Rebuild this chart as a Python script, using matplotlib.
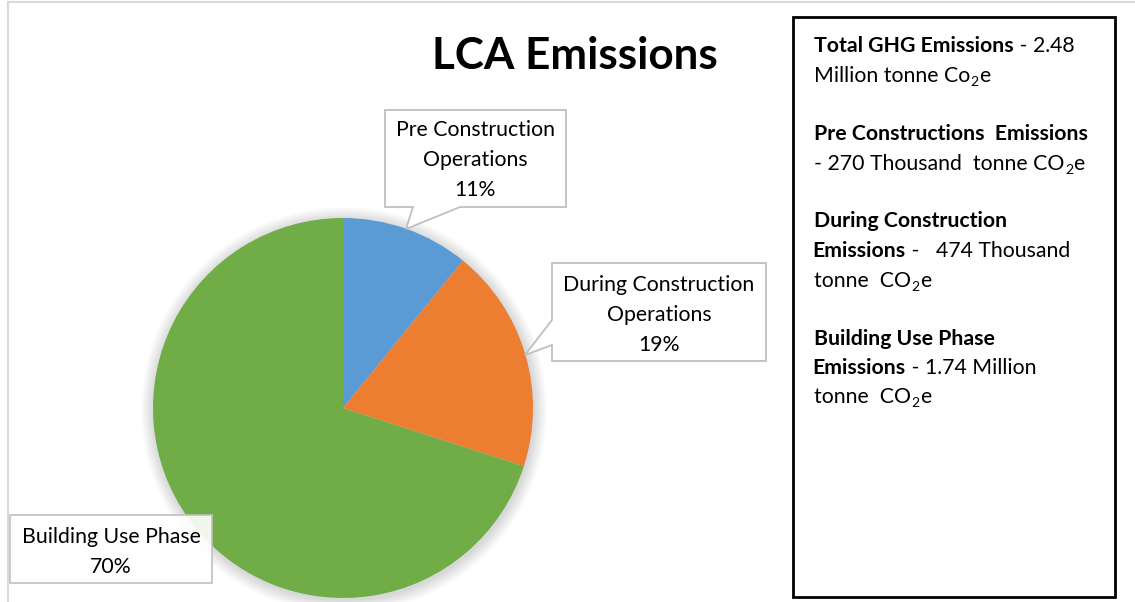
import matplotlib
matplotlib.use("Agg")
import matplotlib.pyplot as plt
from matplotlib.patches import Polygon, Rectangle, Circle

# ---- data ----
categories = ["Pre Construction\nOperations", "During Construction\nOperations", "Building Use Phase"]
values = [270, 474, 1740]          # thousand tonne CO2e
colors = ["#5B9BD5", "#ED7D31", "#70AD47"]
title = "LCA Emissions"

W, H = 1135, 602
FONT = "Lato"
fig = plt.figure(figsize=(W / 100, H / 100), dpi=100)
ax = fig.add_axes([0, 0, 1, 1])


def Y(y):
    return H - y


# chart area border
ax.plot([8, 8], [Y(2), Y(602)], color="#D9D9D9", lw=1.5, zorder=0)
ax.plot([8, 1135], [Y(2), Y(2)], color="#D9D9D9", lw=1.5, zorder=0)

cx, cy, R = 343, Y(408), 190
# soft shadow
for k in range(1, 14):
    ax.add_patch(Circle((cx + 1, cy - 2), R + k, color="#000000", alpha=0.012, lw=0, zorder=1))

ax.pie(values, colors=colors, startangle=90, counterclock=False,
       center=(cx, cy), radius=R, wedgeprops=dict(linewidth=0), frame=False)
for p in ax.patches:
    if not isinstance(p, Circle):
        p.set_zorder(2)

ax.set_xlim(0, W)
ax.set_ylim(0, H)
ax.set_aspect("auto")
ax.axis("off")

total = sum(values)
pcts = [f"{round(100 * v / total)}%" for v in values]

# callouts
callouts = [
    [(385, 110), (566, 110), (566, 207), (460, 207), (406, 229), (413, 207), (385, 207)],
    [(552, 263), (766, 263), (766, 361), (552, 361), (552, 345), (525, 355), (552, 320)],
    [(10, 515), (212, 515), (212, 583), (10, 583)],
]
text_pos = [(475, [130, 160, 190]), (659, [285, 315, 345]), (111, [537, 567])]
for i, pts in enumerate(callouts):
    ax.add_patch(Polygon([(x, Y(y)) for x, y in pts], closed=True, facecolor="white",
                         edgecolor="#BFBFBF", lw=1.3, alpha=0.9 if i == 2 else 1, zorder=5))
    lines = categories[i].split("\n") + [pcts[i]]
    tx, ys = text_pos[i]
    for ln, yy in zip(lines, ys):
        ax.text(tx, Y(yy), ln, ha="center", va="center", fontsize=15.3, family=FONT,
                color="#000000", zorder=6)

# title
ax.text(575, Y(56), title, ha="center", va="center", fontsize=31.7, fontweight="bold",
        family=FONT, color="#000000")

# info box
ax.add_patch(Rectangle((793, Y(597)), 1115 - 793, 597 - 17, facecolor="white",
                       edgecolor="black", lw=2, zorder=3))

info_lines = [
    (52, [("Total GHG Emissions", "b"), (" - 2.48", "n")]),
    (82, [("Million tonne Co", "n"), ("2", "s"), ("e", "n")]),
    (140, [("Pre Constructions  Emissions", "b")]),
    (170, [("- 270 Thousand  tonne CO", "n"), ("2", "s"), ("e", "n")]),
    (227, [("During Construction", "b")]),
    (257, [("Emissions", "b"), (" -   474 Thousand", "n")]),
    (287, [("tonne  CO", "n"), ("2", "s"), ("e", "n")]),
    (345, [("Building Use Phase", "b")]),
    (374, [("Emissions", "b"), (" - 1.74 Million", "n")]),
    (403, [("tonne  CO", "n"), ("2", "s"), ("e", "n")]),
]
fig.canvas.draw()
renderer = fig.canvas.get_renderer()
FS = 15.3
for base, segs in info_lines:
    x = 812.5 if segs[0][0] == "Emissions" else 814
    for j, (s, kind) in enumerate(segs):
        fs = FS * 0.66 if kind == "s" else FS
        dy = -4 if kind == "s" else 0
        t = ax.text(x, Y(base) + dy, s, ha="left", va="baseline", fontsize=fs,
                    fontweight="bold" if kind == "b" else "normal", family=FONT,
                    color="#000000", zorder=4)
        bb = t.get_window_extent(renderer)
        x = bb.x1 + 0.5

fig.savefig("out.png", dpi=100)
